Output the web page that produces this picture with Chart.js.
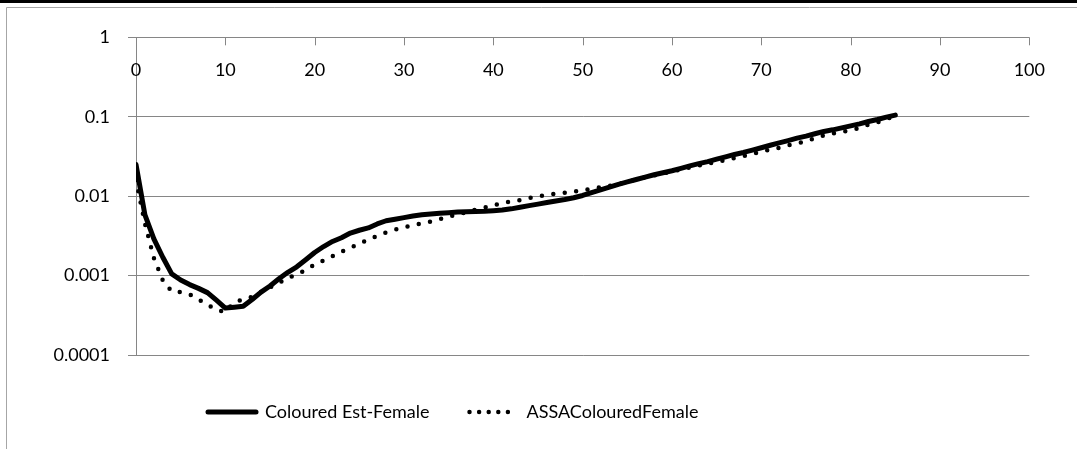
<!DOCTYPE html>
<html>
<head>
<meta charset="utf-8">
<title>Mortality rates by age</title>
<style>
  html, body { margin: 0; padding: 0; background: #ffffff; }
  #wrap { position: relative; width: 1077px; height: 449px; }
</style>
<script src="https://cdn.jsdelivr.net/npm/chart.js@4.4.1/dist/chart.umd.min.js"></script>
</head>
<body>
<div id="wrap"><canvas id="chart" width="1077" height="449"></canvas></div>
<script>
// ---- data -------------------------------------------------------------
const ages = [
  0, 1, 2, 3, 4, 5, 6, 7, 8, 9,
  10, 11, 12, 13, 14, 15, 16, 17, 18, 19,
  20, 21, 22, 23, 24, 25, 26, 27, 28, 29,
  30, 31, 32, 33, 34, 35, 36, 37, 38, 39,
  40, 41, 42, 43, 44, 45, 46, 47, 48, 49,
  50, 51, 52, 53, 54, 55, 56, 57, 58, 59,
  60, 61, 62, 63, 64, 65, 66, 67, 68, 69,
  70, 71, 72, 73, 74, 75, 76, 77, 78, 79,
  80, 81, 82, 83, 84, 85
];

const colouredEstFemale = [
  0.025, 0.0058, 0.0029, 0.0017, 0.00105, 0.00088, 0.00077, 0.00069, 0.00061, 0.00049,
  0.00039, 0.0004, 0.00041, 0.0005, 0.00062, 0.00074, 0.00091, 0.0011, 0.00129, 0.00158,
  0.00195, 0.00232, 0.00269, 0.003, 0.00343, 0.00372, 0.00398, 0.00447, 0.0049, 0.00513,
  0.00537, 0.00562, 0.00582, 0.00596, 0.0061, 0.0062, 0.0063, 0.00637, 0.00641, 0.00646,
  0.00656, 0.00668, 0.00692, 0.00724, 0.00759, 0.00794, 0.0083, 0.0087, 0.00906, 0.00955,
  0.0102, 0.0111, 0.012, 0.013, 0.0141, 0.0151, 0.0162, 0.0174, 0.0186, 0.0197,
  0.0209, 0.0224, 0.024, 0.0257, 0.0272, 0.0292, 0.0313, 0.0335, 0.0355, 0.038,
  0.0407, 0.0437, 0.0468, 0.0501, 0.0537, 0.0569, 0.061, 0.0653, 0.0684, 0.0724,
  0.0767, 0.0813, 0.0871, 0.0923, 0.0989, 0.1047
];

const assaColouredFemale = [
  0.016, 0.0045, 0.00166, 0.00087, 0.00063, 0.00062, 0.00058, 0.0005, 0.00043, 0.00037,
  0.00035, 0.00046, 0.0005, 0.00054, 0.00062, 0.00071, 0.00081, 0.00093, 0.00104, 0.00117,
  0.00138, 0.00155, 0.00176, 0.002, 0.00224, 0.00251, 0.00285, 0.00316, 0.0035, 0.0038,
  0.00403, 0.00431, 0.00452, 0.00479, 0.00513, 0.0055, 0.00589, 0.0063, 0.00676, 0.00716,
  0.00767, 0.00813, 0.00861, 0.00891, 0.00944, 0.00989, 0.0104, 0.0107, 0.011, 0.0114,
  0.0119, 0.0124, 0.0129, 0.0135, 0.0143, 0.0151, 0.0162, 0.0172, 0.0182, 0.0193,
  0.0204, 0.0216, 0.0229, 0.0243, 0.0257, 0.0269, 0.0285, 0.0302, 0.032, 0.0339,
  0.0363, 0.0385, 0.0407, 0.0437, 0.0462, 0.049, 0.0537, 0.0582, 0.0617, 0.0646,
  0.0676, 0.0724, 0.0794, 0.0851, 0.0933, 0.102
];

const seriesNames = ['Coloured Est-Female', 'ASSAColouredFemale'];

const xTickValues = [0, 10, 20, 30, 40, 50, 60, 70, 80, 90, 100];
const xTickLabels = ['0', '10', '20', '30', '40', '50', '60', '70', '80', '90', '100'];

const yTickValues = [0.0001, 0.001, 0.01, 0.1, 1];
const yTickLabels = ['0.0001', '0.001', '0.01', '0.1', '1'];

// ---- styling ------------------------------------------------------------
const FONT_FAMILY = 'Lato, "Open Sans", sans-serif';
const FONT_SIZE = 18;
const AXIS_GREY = '#868686';
const LEGEND_PAD = 40;

const toPoints = (values) => values.map((v, i) => ({ x: ages[i], y: v }));

// page frame: dark top rule plus light border lines
const framePlugin = {
  id: 'frame',
  beforeDraw(chart) {
    const { ctx, width, height } = chart;
    ctx.save();
    ctx.fillStyle = '#ffffff';
    ctx.fillRect(0, 0, width, height);
    ctx.fillStyle = '#000000';
    ctx.fillRect(0, 0, width, 3);
    ctx.strokeStyle = '#a6a6a6';
    ctx.lineWidth = 1;
    ctx.beginPath();
    ctx.moveTo(6.5, height);
    ctx.lineTo(6.5, 7.5);
    ctx.lineTo(width, 7.5);
    ctx.stroke();
    ctx.restore();
  }
};

// horizontal axis sits along the top edge: inward tick marks, labels beneath
const topAxisPlugin = {
  id: 'topAxis',
  afterDraw(chart) {
    const { ctx, chartArea } = chart;
    const xs = chart.scales.x;
    ctx.save();
    ctx.strokeStyle = AXIS_GREY;
    ctx.lineWidth = 1;
    ctx.beginPath();
    xTickValues.forEach((v) => {
      const px = Math.round(xs.getPixelForValue(v)) + 0.5;
      ctx.moveTo(px, chartArea.top);
      ctx.lineTo(px, chartArea.top + 8);
    });
    ctx.stroke();
    ctx.fillStyle = '#000000';
    ctx.font = FONT_SIZE + 'px ' + FONT_FAMILY;
    ctx.textAlign = 'center';
    ctx.textBaseline = 'middle';
    xTickValues.forEach((v, i) => {
      ctx.fillText(xTickLabels[i], xs.getPixelForValue(v), chartArea.top + 33);
    });
    ctx.restore();
  }
};

// place the legend row below the plot
const legendPlacePlugin = {
  id: 'legendPlace',
  afterLayout(chart) {
    const lg = chart.legend;
    if (!lg) return;
    const startX = 208;
    const centerY = 412;
    const w = lg.right - lg.left;
    lg.left = startX - LEGEND_PAD;
    lg.right = lg.left + w;
    const h = lg.bottom - lg.top;
    lg.top = centerY - LEGEND_PAD - FONT_SIZE / 2;
    lg.bottom = lg.top + h;
  }
};

const ctx = document.getElementById('chart').getContext('2d');

new Chart(ctx, {
  type: 'line',
  data: {
    datasets: [
      {
        label: seriesNames[0],
        data: toPoints(colouredEstFemale),
        borderColor: '#000000',
        backgroundColor: '#000000',
        borderWidth: 5,
        borderCapStyle: 'round',
        borderJoinStyle: 'round',
        pointRadius: 0,
        tension: 0,
        legendDash: []
      },
      {
        label: seriesNames[1],
        data: toPoints(assaColouredFemale),
        borderColor: '#000000',
        backgroundColor: '#000000',
        borderWidth: 4.5,
        borderDash: [0, 11.5],
        borderCapStyle: 'round',
        borderJoinStyle: 'round',
        pointRadius: 0,
        tension: 0,
        legendDash: [0, 9.6]
      }
    ]
  },
  options: {
    responsive: false,
    animation: false,
    devicePixelRatio: 1,
    layout: {
      padding: { left: 0, right: 47.7, top: 37.3, bottom: 449 - 355 - (FONT_SIZE + LEGEND_PAD + 10) }
    },
    scales: {
      x: {
        type: 'linear',
        display: false,
        min: 0,
        max: 100
      },
      y: {
        type: 'logarithmic',
        position: 'left',
        min: 0.0001,
        max: 1,
        afterBuildTicks(scale) {
          scale.ticks = yTickValues.map((v) => ({ value: v }));
        },
        afterFit(scale) {
          scale.width = 136;
        },
        ticks: {
          color: '#000000',
          padding: 18,
          font: { family: FONT_FAMILY, size: FONT_SIZE },
          callback: (value, index) => yTickLabels[index]
        },
        grid: {
          color: AXIS_GREY,
          lineWidth: 1,
          tickLength: 8,
          drawTicks: true
        },
        border: {
          display: true,
          color: AXIS_GREY,
          width: 1
        }
      }
    },
    plugins: {
      tooltip: { enabled: false },
      legend: {
        display: true,
        position: 'bottom',
        align: 'start',
        labels: {
          color: '#000000',
          padding: LEGEND_PAD,
          usePointStyle: true,
          pointStyle: 'line',
          pointStyleWidth: 48,
          font: { family: FONT_FAMILY, size: FONT_SIZE },
          generateLabels(chart) {
            return chart.data.datasets.map((ds, i) => ({
              text: ds.label,
              datasetIndex: i,
              hidden: false,
              pointStyle: 'line',
              lineWidth: ds.borderWidth,
              strokeStyle: ds.borderColor,
              fillStyle: ds.borderColor,
              lineCap: 'round',
              lineDash: ds.legendDash,
              fontColor: '#000000'
            }));
          }
        }
      }
    }
  },
  plugins: [framePlugin, topAxisPlugin, legendPlacePlugin]
});
</script>
</body>
</html>
